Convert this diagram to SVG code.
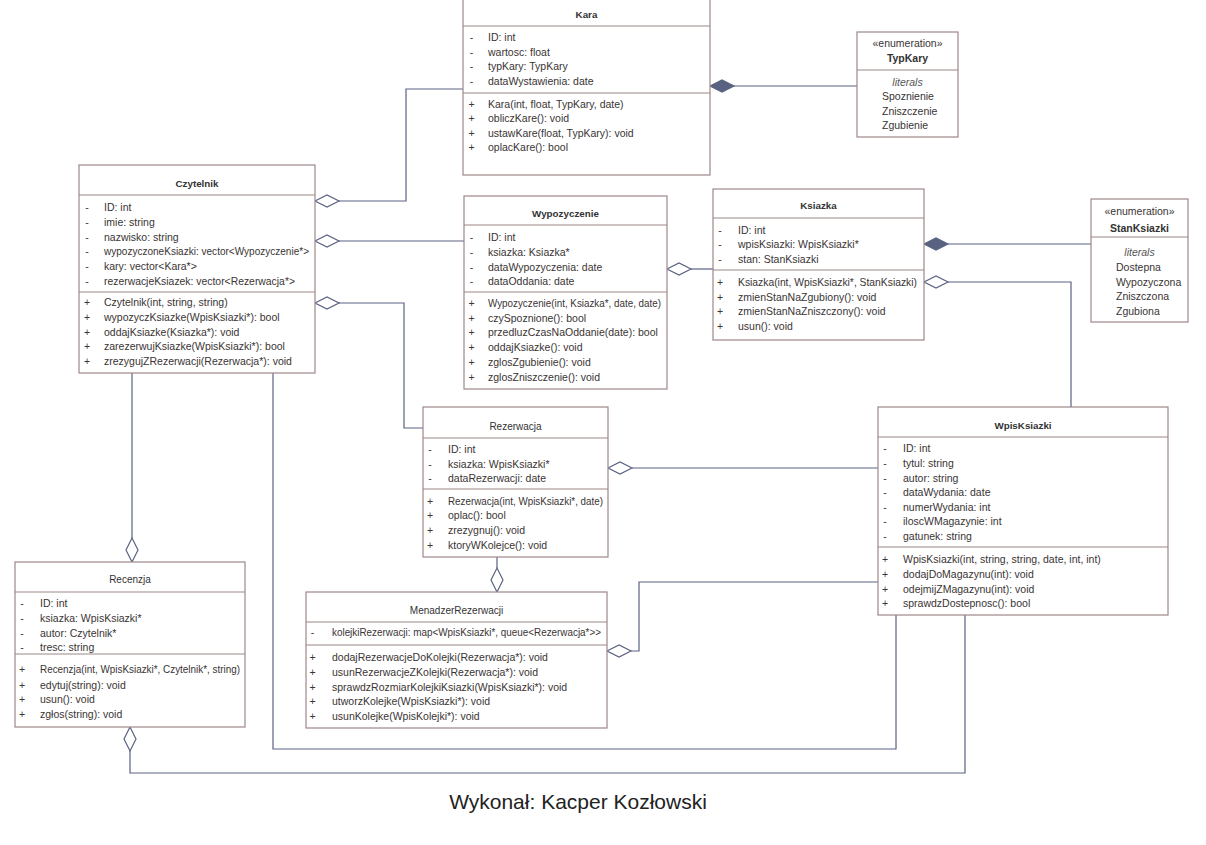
<svg xmlns="http://www.w3.org/2000/svg" width="1206" height="845" viewBox="0 0 1206 845">
<style>
.box{fill:#fff;stroke:#9e8888;stroke-width:1.2}
.sep{stroke:#9e8888;stroke-width:1.2}
.t{font-family:"Liberation Sans",Arial,sans-serif;font-size:10.5px;fill:#3a3434}
.v{font-family:"Liberation Sans",Arial,sans-serif;font-size:10.5px;fill:#3a3434;text-anchor:middle}
.h{font-family:"Liberation Sans",Arial,sans-serif;font-size:9.8px;font-weight:bold;fill:#333;text-anchor:middle}
.hr{font-family:"Liberation Sans",Arial,sans-serif;font-size:10px;fill:#333;text-anchor:middle}
.en{font-family:"Liberation Sans",Arial,sans-serif;font-size:10.5px;fill:#3a3434;text-anchor:middle}
.enb{font-family:"Liberation Sans",Arial,sans-serif;font-size:10.5px;font-weight:bold;fill:#333;text-anchor:middle}
.lit{font-family:"Liberation Sans",Arial,sans-serif;font-size:10.5px;font-style:italic;fill:#555;text-anchor:middle}
.ln{fill:none;stroke:#5a6282;stroke-width:1.2}
.dh{fill:#fff;stroke:#5a6282;stroke-width:1.2}
.df{fill:#5a6282;stroke:#5a6282;stroke-width:1.2}
</style>
<rect width="1206" height="845" fill="#fff"/>
<g id="connectors">
<polygon class="df" points="710,86 722,80 734,86 722,92"/>
<path class="ln" d="M734,86 H857"/>
<polygon class="dh" points="315,201 327,195 339,201 327,207"/>
<path class="ln" d="M339,201 H406 V89 H463"/>
<polygon class="dh" points="315,241 327,235 339,241 327,247"/>
<path class="ln" d="M339,241 H464"/>
<polygon class="dh" points="315,303 327,297 339,303 327,309"/>
<path class="ln" d="M339,303 H404 V428 H423"/>
<polygon class="dh" points="667,269 679,263 691,269 679,275"/>
<path class="ln" d="M691,269 H713"/>
<polygon class="df" points="924,244 936,238 948,244 936,250"/>
<path class="ln" d="M948,244 H1091"/>
<polygon class="dh" points="924,282 936,276 948,282 936,288"/>
<path class="ln" d="M948,282 H1071 V407"/>
<polygon class="dh" points="608,468 620,462 632,468 620,474"/>
<path class="ln" d="M632,468 H878"/>
<polygon class="dh" points="497,592 491,580 497,568 503,580"/>
<path class="ln" d="M497,568 V557"/>
<polygon class="dh" points="607,651 619,645 631,651 619,657"/>
<path class="ln" d="M631,651 H639 V582 H878"/>
<polygon class="dh" points="132,562 126,550 132,538 138,550"/>
<path class="ln" d="M132,538 V373"/>
<path class="ln" d="M273,373 V749 H896 V615"/>
<polygon class="dh" points="130,727 124,739 130,751 136,739"/>
<path class="ln" d="M130,751 V773 H965 V615"/>
</g>
<g id="Kara">
<rect class="box" x="463" y="-1" width="247" height="176"/>
<line class="sep" x1="463" y1="26" x2="710" y2="26"/>
<line class="sep" x1="463" y1="93" x2="710" y2="93"/>
<text class="h" x="586.5" y="17.5">Kara</text>
<text class="v" x="471.5" y="41">-</text><text class="t" x="488" y="41">ID: int</text>
<text class="v" x="471.5" y="56">-</text><text class="t" x="488" y="56">wartosc: float</text>
<text class="v" x="471.5" y="70">-</text><text class="t" x="488" y="70">typKary: TypKary</text>
<text class="v" x="471.5" y="85">-</text><text class="t" x="488" y="85">dataWystawienia: date</text>
<text class="v" x="471.5" y="108">+</text><text class="t" x="488" y="108">Kara(int, float, TypKary, date)</text>
<text class="v" x="471.5" y="122">+</text><text class="t" x="488" y="122">obliczKare(): void</text>
<text class="v" x="471.5" y="137">+</text><text class="t" x="488" y="137">ustawKare(float, TypKary): void</text>
<text class="v" x="471.5" y="151">+</text><text class="t" x="488" y="151">oplacKare(): bool</text>
</g>
<g id="TypKary">
<rect class="box" x="857" y="32" width="101" height="105"/>
<line class="sep" x1="857" y1="70" x2="958" y2="70"/>
<text class="en" x="907.5" y="47">«enumeration»</text>
<text class="enb" x="907.5" y="62">TypKary</text>
<text class="lit" x="907.5" y="86">literals</text>
<text class="t" x="882" y="100">Spoznienie</text>
<text class="t" x="882" y="115">Zniszczenie</text>
<text class="t" x="882" y="129">Zgubienie</text>
</g>
<g id="Czytelnik">
<rect class="box" x="79" y="165" width="236" height="208"/>
<line class="sep" x1="79" y1="195" x2="315" y2="195"/>
<line class="sep" x1="79" y1="292" x2="315" y2="292"/>
<text class="h" x="197" y="186.5">Czytelnik</text>
<text class="v" x="87" y="211">-</text><text class="t" x="104" y="211">ID: int</text>
<text class="v" x="87" y="226">-</text><text class="t" x="104" y="226">imie: string</text>
<text class="v" x="87" y="241">-</text><text class="t" x="104" y="241">nazwisko: string</text>
<text class="v" x="87" y="255">-</text><text class="t" x="104" y="255" textLength="205" lengthAdjust="spacingAndGlyphs">wypozyczoneKsiazki: vector&lt;Wypozyczenie*&gt;</text>
<text class="v" x="87" y="270">-</text><text class="t" x="104" y="270">kary: vector&lt;Kara*&gt;</text>
<text class="v" x="87" y="285">-</text><text class="t" x="104" y="285" textLength="191" lengthAdjust="spacingAndGlyphs">rezerwacjeKsiazek: vector&lt;Rezerwacja*&gt;</text>
<text class="v" x="87" y="306">+</text><text class="t" x="104" y="306">Czytelnik(int, string, string)</text>
<text class="v" x="87" y="321">+</text><text class="t" x="104" y="321">wypozyczKsiazke(WpisKsiazki*): bool</text>
<text class="v" x="87" y="336">+</text><text class="t" x="104" y="336">oddajKsiazke(Ksiazka*): void</text>
<text class="v" x="87" y="350">+</text><text class="t" x="104" y="350">zarezerwujKsiazke(WpisKsiazki*): bool</text>
<text class="v" x="87" y="365">+</text><text class="t" x="104" y="365">zrezygujZRezerwacji(Rezerwacja*): void</text>
</g>
<g id="Wypozyczenie">
<rect class="box" x="464" y="196" width="203" height="193"/>
<line class="sep" x1="464" y1="225" x2="667" y2="225"/>
<line class="sep" x1="464" y1="292" x2="667" y2="292"/>
<text class="h" x="565.5" y="216.5">Wypozyczenie</text>
<text class="v" x="471.5" y="241">-</text><text class="t" x="488" y="241">ID: int</text>
<text class="v" x="471.5" y="256">-</text><text class="t" x="488" y="256">ksiazka: Ksiazka*</text>
<text class="v" x="471.5" y="271">-</text><text class="t" x="488" y="271">dataWypozyczenia: date</text>
<text class="v" x="471.5" y="285">-</text><text class="t" x="488" y="285">dataOddania: date</text>
<text class="v" x="471.5" y="307">+</text><text class="t" x="488" y="307" textLength="173" lengthAdjust="spacingAndGlyphs">Wypozyczenie(int, Ksiazka*, date, date)</text>
<text class="v" x="471.5" y="322">+</text><text class="t" x="488" y="322">czySpoznione(): bool</text>
<text class="v" x="471.5" y="336">+</text><text class="t" x="488" y="336">przedluzCzasNaOddanie(date): bool</text>
<text class="v" x="471.5" y="351">+</text><text class="t" x="488" y="351">oddajKsiazke(): void</text>
<text class="v" x="471.5" y="366">+</text><text class="t" x="488" y="366">zglosZgubienie(): void</text>
<text class="v" x="471.5" y="381">+</text><text class="t" x="488" y="381">zglosZniszczenie(): void</text>
</g>
<g id="Ksiazka">
<rect class="box" x="713" y="189" width="211" height="151"/>
<line class="sep" x1="713" y1="218" x2="924" y2="218"/>
<line class="sep" x1="713" y1="270" x2="924" y2="270"/>
<text class="h" x="818.5" y="208.5">Ksiazka</text>
<text class="v" x="720" y="234">-</text><text class="t" x="738" y="234">ID: int</text>
<text class="v" x="720" y="248">-</text><text class="t" x="738" y="248">wpisKsiazki: WpisKsiazki*</text>
<text class="v" x="720" y="263">-</text><text class="t" x="738" y="263">stan: StanKsiazki</text>
<text class="v" x="720" y="286">+</text><text class="t" x="738" y="286" textLength="179" lengthAdjust="spacingAndGlyphs">Ksiazka(int, WpisKsiazki*, StanKsiazki)</text>
<text class="v" x="720" y="301">+</text><text class="t" x="738" y="301">zmienStanNaZgubiony(): void</text>
<text class="v" x="720" y="315">+</text><text class="t" x="738" y="315">zmienStanNaZniszczony(): void</text>
<text class="v" x="720" y="330">+</text><text class="t" x="738" y="330">usun(): void</text>
</g>
<g id="StanKsiazki">
<rect class="box" x="1091" y="199" width="97" height="123"/>
<line class="sep" x1="1091" y1="237" x2="1188" y2="237"/>
<text class="en" x="1139.5" y="215">«enumeration»</text>
<text class="enb" x="1139.5" y="232">StanKsiazki</text>
<text class="lit" x="1139.5" y="256">literals</text>
<text class="t" x="1116" y="271">Dostepna</text>
<text class="t" x="1116" y="286">Wypozyczona</text>
<text class="t" x="1116" y="300">Zniszczona</text>
<text class="t" x="1116" y="315">Zgubiona</text>
</g>
<g id="Rezerwacja">
<rect class="box" x="423" y="407" width="185" height="150"/>
<line class="sep" x1="423" y1="438" x2="608" y2="438"/>
<line class="sep" x1="423" y1="489" x2="608" y2="489"/>
<text class="hr" x="515.5" y="430">Rezerwacja</text>
<text class="v" x="430" y="453">-</text><text class="t" x="448" y="453">ID: int</text>
<text class="v" x="430" y="468">-</text><text class="t" x="448" y="468">ksiazka: WpisKsiazki*</text>
<text class="v" x="430" y="482">-</text><text class="t" x="448" y="482">dataRezerwacji: date</text>
<text class="v" x="430" y="505">+</text><text class="t" x="448" y="505" textLength="155" lengthAdjust="spacingAndGlyphs">Rezerwacja(int, WpisKsiazki*, date)</text>
<text class="v" x="430" y="519">+</text><text class="t" x="448" y="519">oplac(): bool</text>
<text class="v" x="430" y="534">+</text><text class="t" x="448" y="534">zrezygnuj(): void</text>
<text class="v" x="430" y="549">+</text><text class="t" x="448" y="549">ktoryWKolejce(): void</text>
</g>
<g id="WpisKsiazki">
<rect class="box" x="878" y="407" width="290" height="208"/>
<line class="sep" x1="878" y1="437" x2="1168" y2="437"/>
<line class="sep" x1="878" y1="547" x2="1168" y2="547"/>
<text class="h" x="1023" y="428.5">WpisKsiazki</text>
<text class="v" x="885" y="452">-</text><text class="t" x="903" y="452">ID: int</text>
<text class="v" x="885" y="467">-</text><text class="t" x="903" y="467">tytul: string</text>
<text class="v" x="885" y="482">-</text><text class="t" x="903" y="482">autor: string</text>
<text class="v" x="885" y="496">-</text><text class="t" x="903" y="496">dataWydania: date</text>
<text class="v" x="885" y="511">-</text><text class="t" x="903" y="511">numerWydania: int</text>
<text class="v" x="885" y="525">-</text><text class="t" x="903" y="525">iloscWMagazynie: int</text>
<text class="v" x="885" y="540">-</text><text class="t" x="903" y="540">gatunek: string</text>
<text class="v" x="885" y="563">+</text><text class="t" x="903" y="563">WpisKsiazki(int, string, string, date, int, int)</text>
<text class="v" x="885" y="578">+</text><text class="t" x="903" y="578">dodajDoMagazynu(int): void</text>
<text class="v" x="885" y="593">+</text><text class="t" x="903" y="593">odejmijZMagazynu(int): void</text>
<text class="v" x="885" y="607">+</text><text class="t" x="903" y="607">sprawdzDostepnosc(): bool</text>
</g>
<g id="Recenzja">
<rect class="box" x="15" y="562" width="230" height="165"/>
<line class="sep" x1="15" y1="592" x2="245" y2="592"/>
<line class="sep" x1="15" y1="654" x2="245" y2="654"/>
<text class="hr" x="130" y="583">Recenzja</text>
<text class="v" x="22" y="607">-</text><text class="t" x="40" y="607">ID: int</text>
<text class="v" x="22" y="622">-</text><text class="t" x="40" y="622">ksiazka: WpisKsiazki*</text>
<text class="v" x="22" y="637">-</text><text class="t" x="40" y="637">autor: Czytelnik*</text>
<text class="v" x="22" y="651">-</text><text class="t" x="40" y="651">tresc: string</text>
<text class="v" x="22" y="673">+</text><text class="t" x="40" y="673" textLength="200" lengthAdjust="spacingAndGlyphs">Recenzja(int, WpisKsiazki*, Czytelnik*, string)</text>
<text class="v" x="22" y="689">+</text><text class="t" x="40" y="689">edytuj(string): void</text>
<text class="v" x="22" y="703">+</text><text class="t" x="40" y="703">usun(): void</text>
<text class="v" x="22" y="718">+</text><text class="t" x="40" y="718">zgłos(string): void</text>
</g>
<g id="MenadzerRezerwacji">
<rect class="box" x="306" y="592" width="301" height="136"/>
<line class="sep" x1="306" y1="622" x2="607" y2="622"/>
<line class="sep" x1="306" y1="645" x2="607" y2="645"/>
<text class="hr" x="456.5" y="614">MenadzerRezerwacji</text>
<text class="v" x="312.5" y="636">-</text><text class="t" x="332" y="636" textLength="269" lengthAdjust="spacingAndGlyphs">kolejkiRezerwacji: map&lt;WpisKsiazki*, queue&lt;Rezerwacja*&gt;&gt;</text>
<text class="v" x="312.5" y="661">+</text><text class="t" x="332" y="661">dodajRezerwacjeDoKolejki(Rezerwacja*): void</text>
<text class="v" x="312.5" y="676">+</text><text class="t" x="332" y="676">usunRezerwacjeZKolejki(Rezerwacja*): void</text>
<text class="v" x="312.5" y="691">+</text><text class="t" x="332" y="691">sprawdzRozmiarKolejkiKsiazki(WpisKsiazki*): void</text>
<text class="v" x="312.5" y="705">+</text><text class="t" x="332" y="705">utworzKolejke(WpisKsiazki*): void</text>
<text class="v" x="312.5" y="720">+</text><text class="t" x="332" y="720">usunKolejke(WpisKolejki*): void</text>
</g>
<text x="578" y="809" font-family="'Liberation Sans',Arial,sans-serif" font-size="21" fill="#222" text-anchor="middle">Wykonał: Kacper Kozłowski</text>
</svg>
